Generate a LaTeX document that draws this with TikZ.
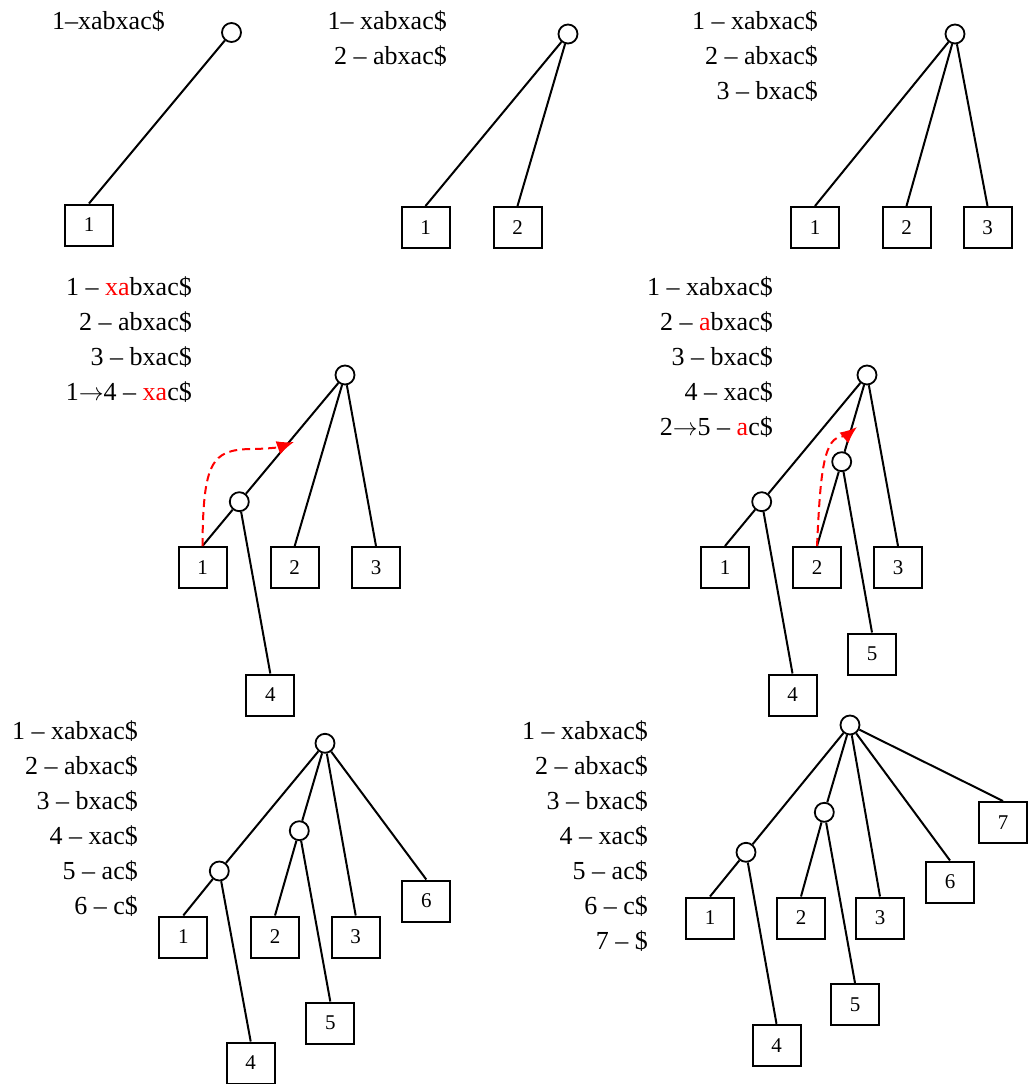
\documentclass[tikz,border=0pt]{standalone}
\usepackage{fontspec}
\setmainfont{Liberation Serif}
\usetikzlibrary{arrows.meta}
\tikzset{
  leaf/.style={draw, line width=2pt, minimum width=48pt, minimum height=41pt, inner sep=0pt, font=\fontsize{21}{21}\selectfont},
  inode/.style={circle, draw, line width=1.8pt, minimum size=19pt, inner sep=0pt, fill=white},
  conn/.style={line width=2pt},
  lbl/.style={anchor=base east, inner sep=0pt, font=\fontsize{26}{30}\selectfont},
  hl/.style={red, line width=2pt, dash pattern=on 8pt off 5pt, -{Latex[length=17pt,width=14pt]}}
}
\newcommand{\rd}[1]{\textcolor{red}{#1}}
\newcommand{\arr}{$\rightarrow$}
\begin{document}
\begin{tikzpicture}[x=1pt,y=-1pt]
\useasboundingbox (0,0) rectangle (1030,1084);
% ---------- panel 1
\node[lbl] (t1a) at (165,29) {1–xabxac\$};
\node[inode] (a0) at (231.5,32.5) {};
\node[leaf] (a1) at (89,225) {1};
\draw[conn] (a0) -- (a1.north);
% ---------- panel 2
\node[lbl] (t2a) at (447,29) {1– xabxac\$};
\node[lbl] (t2b) at (447,64) {2 – abxac\$};
\node[inode] (b0) at (568,34) {};
\node[leaf] (b1) at (425.5,227.5) {1};
\node[leaf] (b2) at (517.5,227.5) {2};
\draw[conn] (b0) -- (b1.north);
\draw[conn] (b0) -- (b2.north);
% ---------- panel 3
\node[lbl] (t3a) at (818,29) {1 – xabxac\$};
\node[lbl] (t3b) at (818,64) {2 – abxac\$};
\node[lbl] (t3c) at (818,99) {3 – bxac\$};
\node[inode] (c0) at (955,34) {};
\node[leaf] (c1) at (815,227.5) {1};
\node[leaf] (c2) at (906.5,227.5) {2};
\node[leaf] (c3) at (987.5,227.5) {3};
\draw[conn] (c0) -- (c1.north);
\draw[conn] (c0) -- (c2.north);
\draw[conn] (c0) -- (c3.north);
% ---------- panel 4
\node[lbl] (t4a) at (192,295) {1 – \rd{xa}bxac\$};
\node[lbl] (t4b) at (192,330) {2 – abxac\$};
\node[lbl] (t4c) at (192,365) {3 – bxac\$};
\node[lbl] (t4d) at (192,400) {1\arr4 – \rd{xa}c\$};
\node[inode] (d0) at (345,375) {};
\node[inode] (dA) at (239.3,501.7) {};
\node[leaf] (d1) at (202.5,567.5) {1};
\node[leaf] (d2) at (294.7,567.5) {2};
\node[leaf] (d3) at (376,567.5) {3};
\node[leaf] (d4) at (270.3,695) {4};
\draw[conn] (d0) -- (dA);
\draw[conn] (dA) -- (d1.north);
\draw[conn] (dA) -- (d4.north);
\draw[conn] (d0) -- (d2.north);
\draw[conn] (d0) -- (d3.north);
\coordinate (d4t) at (294,442);
\draw[hl] (d1.north) .. controls (203,462) and (212,450) .. (250,449) .. controls (268,449) and (280,447) .. (d4t);
% ---------- panel 5
\node[lbl] (t5a) at (773,295) {1 – xabxac\$};
\node[lbl] (t5b) at (773,330) {2 – \rd{a}bxac\$};
\node[lbl] (t5c) at (773,365) {3 – bxac\$};
\node[lbl] (t5d) at (773,400) {4 – xac\$};
\node[lbl] (t5e) at (773,435) {2\arr5 – \rd{a}c\$};
\node[inode] (e0) at (867,375) {};
\node[inode] (eA) at (761.7,501.7) {};
\node[inode] (eB) at (841.7,461.7) {};
\node[leaf] (e1) at (725,567.5) {1};
\node[leaf] (e2) at (817,567.5) {2};
\node[leaf] (e3) at (898,567.5) {3};
\node[leaf] (e5) at (872,654) {5};
\node[leaf] (e4) at (792.5,695) {4};
\draw[conn] (e0) -- (eA);
\draw[conn] (eA) -- (e1.north);
\draw[conn] (eA) -- (e4.north);
\draw[conn] (e0) -- (eB);
\draw[conn] (eB) -- (e2.north);
\draw[conn] (eB) -- (e5.north);
\draw[conn] (e0) -- (e3.north);
\coordinate (e5t) at (857,427);
\draw[hl] (e2.north) .. controls (820,485) and (822,440) .. (840,437) .. controls (846,436) and (851,432) .. (e5t);
% ---------- panel 6
\node[lbl] (t6a) at (138,739) {1 – xabxac\$};
\node[lbl] (t6b) at (138,774) {2 – abxac\$};
\node[lbl] (t6c) at (138,809) {3 – bxac\$};
\node[lbl] (t6d) at (138,844) {4 – xac\$};
\node[lbl] (t6e) at (138,879) {5 – ac\$};
\node[lbl] (t6f) at (138,914) {6 – c\$};
\node[inode] (f0) at (325,743.3) {};
\node[inode] (fA) at (219.3,871) {};
\node[inode] (fB) at (299.3,830.7) {};
\node[leaf] (f1) at (183.3,937) {1};
\node[leaf] (f2) at (275,937) {2};
\node[leaf] (f3) at (355.7,937) {3};
\node[leaf] (f6) at (426.3,901) {6};
\node[leaf] (f5) at (330.3,1023) {5};
\node[leaf] (f4) at (250.7,1063) {4};
\draw[conn] (f0) -- (fA);
\draw[conn] (fA) -- (f1.north);
\draw[conn] (fA) -- (f4.north);
\draw[conn] (f0) -- (fB);
\draw[conn] (fB) -- (f2.north);
\draw[conn] (fB) -- (f5.north);
\draw[conn] (f0) -- (f3.north);
\draw[conn] (f0) -- (f6.north);
% ---------- panel 7
\node[lbl] (t7a) at (648,739) {1 – xabxac\$};
\node[lbl] (t7b) at (648,774) {2 – abxac\$};
\node[lbl] (t7c) at (648,809) {3 – bxac\$};
\node[lbl] (t7d) at (648,844) {4 – xac\$};
\node[lbl] (t7e) at (648,879) {5 – ac\$};
\node[lbl] (t7f) at (648,914) {6 – c\$};
\node[lbl] (t7g) at (648,949) {7 – \$};
\node[inode] (g0) at (850,725) {};
\node[inode] (gA) at (746,852.3) {};
\node[inode] (gB) at (824.3,812.3) {};
\node[leaf] (g1) at (710,918) {1};
\node[leaf] (g2) at (801,918) {2};
\node[leaf] (g3) at (880,918) {3};
\node[leaf] (g6) at (950,882) {6};
\node[leaf] (g7) at (1003,822.5) {7};
\node[leaf] (g5) at (855,1004.5) {5};
\node[leaf] (g4) at (776.5,1045.3) {4};
\draw[conn] (g0) -- (gA);
\draw[conn] (gA) -- (g1.north);
\draw[conn] (gA) -- (g4.north);
\draw[conn] (g0) -- (gB);
\draw[conn] (gB) -- (g2.north);
\draw[conn] (gB) -- (g5.north);
\draw[conn] (g0) -- (g3.north);
\draw[conn] (g0) -- (g6.north);
\draw[conn] (g0) -- (g7.north);
\end{tikzpicture}
\end{document}
